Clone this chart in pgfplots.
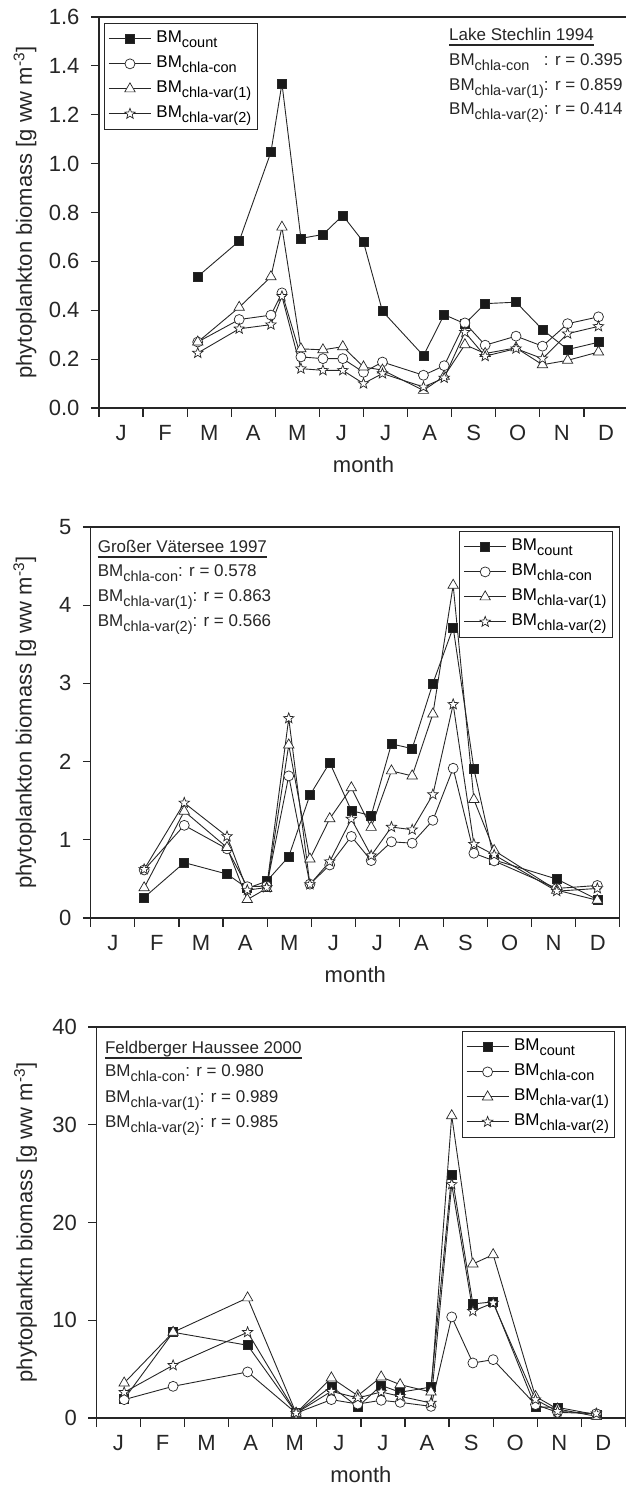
\documentclass[border=0pt]{standalone}
\usepackage{pgfplots}
\usepackage{pgfplotstable}
\pgfplotsset{compat=1.18}
\usepackage{fontspec}
\setmainfont{Liberation Sans}

% open five-pointed star
\pgfdeclareplotmark{ostar}{%
  \pgfpathmoveto{\pgfpointpolar{90}{\pgfplotmarksize}}%
  \pgfpathlineto{\pgfpointpolar{126}{0.42\pgfplotmarksize}}%
  \pgfpathlineto{\pgfpointpolar{162}{\pgfplotmarksize}}%
  \pgfpathlineto{\pgfpointpolar{198}{0.42\pgfplotmarksize}}%
  \pgfpathlineto{\pgfpointpolar{234}{\pgfplotmarksize}}%
  \pgfpathlineto{\pgfpointpolar{270}{0.42\pgfplotmarksize}}%
  \pgfpathlineto{\pgfpointpolar{306}{\pgfplotmarksize}}%
  \pgfpathlineto{\pgfpointpolar{342}{0.42\pgfplotmarksize}}%
  \pgfpathlineto{\pgfpointpolar{18}{\pgfplotmarksize}}%
  \pgfpathlineto{\pgfpointpolar{54}{0.42\pgfplotmarksize}}%
  \pgfpathclose
  \pgfusepathqfillstroke
}

\newcommand{\BMs}[1]{BM\raisebox{-5pt}{\fontsize{14.5}{14.5}\selectfont #1}}
\newcommand{\annfont}{\fontsize{17}{17}\selectfont}

% x = month position (0 = 1 Jan, 12 = 31 Dec)
\pgfplotstableread{
x      cnt    con    v1     v2
2.24   0.538  0.270  0.270  0.225
3.18   0.683  0.362  0.412  0.324
3.90   1.047  0.380  0.537  0.341
4.15   1.328  0.471  0.740  0.457
4.58   0.694  0.209  0.242  0.161
5.08   0.710  0.202  0.238  0.154
5.53   0.788  0.202  0.251  0.154
6.00   0.679  0.146  0.168  0.100
6.43   0.396  0.188  0.155  0.141
7.36   0.214  0.134  0.072  0.086
7.83   0.382  0.173  0.130  0.123
8.30   0.345  0.348  0.259  0.310
8.76   0.427  0.257  0.223  0.212
9.46   0.433  0.294  0.246  0.243
10.06  0.321  0.253  0.177  0.202
10.63  0.239  0.345  0.195  0.304
11.33  0.269  0.373  0.229  0.334
}\stechlin

\pgfplotstableread{
x      cnt    con    v1     v2
1.21   0.262  0.614  0.386  0.622
2.12   0.708  1.185  1.365  1.472
3.09   0.562  0.884  0.901  1.043
3.55   0.380  0.400  0.236  0.356
3.99   0.470  0.408  0.378  0.390
4.49   0.785  1.817  2.213  2.553
4.97   1.571  0.433  0.755  0.429
5.42   1.987  0.678  1.270  0.721
5.91   1.373  1.043  1.665  1.266
6.36   1.309  0.734  1.159  0.798
6.82   2.226  0.974  1.881  1.163
7.29   2.166  0.957  1.817  1.129
7.76   3.000  1.249  2.609  1.579
8.22   3.715  1.915  4.255  2.732
8.69   1.906  0.828  1.515  0.944
9.15   0.742  0.730  0.863  0.807
10.57  0.498  0.378  0.356  0.343
11.49  0.236  0.416  0.227  0.378
}\vaetersee

\pgfplotstableread{
x      cnt    con    v1     v2
0.63   1.95   1.88   3.58   2.63
1.74   8.77   3.24   8.77   5.39
3.43   7.44   4.71   12.29  8.77
4.53   0.51   0.50   0.50   0.50
5.33   3.24   1.88   4.10   2.73
5.93   1.13   1.43   2.29   2.05
6.46   3.34   1.81   4.20   2.66
6.89   2.63   1.60   3.41   2.22
7.59   3.17   1.19   2.66   1.54
8.06   24.92  10.34  30.92  23.90
8.54   11.67  5.63   15.76  10.92
9.00   11.88  5.97   16.71  11.77
9.96   1.13   1.37   2.20   1.88
10.46  1.09   0.58   0.92   0.68
11.34  0.34   0.44   0.17   0.44
}\feldberg

\pgfplotsset{
  panel/.style={
    scale only axis, width=529pt, height=391pt,
    anchor=south west,
    xmin=0, xmax=12,
    xtick={0.5,1.5,...,11.5},
    xticklabels={J,F,M,A,M,J,J,A,S,O,N,D},
    minor xtick={0,...,12},
    tick align=outside,
    xtick pos=bottom, ytick pos=left,
    major x tick style={draw=none},
    major tick length=8pt, minor tick length=9pt,
    axis line style={line width=1.2pt, draw=black!85},
    every tick/.append style={line width=1.2pt, draw=black!85},
    every tick label/.append style={font=\fontsize{22}{22}\selectfont, text=black!85},
    /pgf/number format/assume math mode=true,
    xticklabel style={yshift=-6pt},
    yticklabel style={xshift=-8pt},
    xlabel={month},
    every axis x label/.style={at={(axis description cs:0.5,0)}, anchor=center, yshift=-57pt,
      font=\fontsize{22}{22}\selectfont, text=black!85},
    every axis y label/.style={rotate=90, anchor=center,
      font=\fontsize{22}{22}\selectfont, text=black!85},
    legend cell align=left,
    legend style={draw=black!85, line width=1pt, font=\annfont,
      inner xsep=4pt, inner ysep=5pt, row sep=4pt,
      nodes={inner sep=2pt, text height=12pt, text depth=5pt},
      /tikz/every odd column/.style={column sep=3pt}},
    legend image code/.code={\draw[mark repeat=2, mark phase=2]
      plot coordinates {(0pt,0pt) (21pt,0pt) (42pt,0pt)};},
    every axis plot/.append style={line width=0.9pt, draw=black!85},
  },
  cnt/.style={mark=square*, mark size=4.5pt, mark options={fill=black!90, solid, line width=0.6pt}},
  con/.style={mark=*, mark size=5pt, mark options={fill=white, line width=0.7pt}},
  vone/.style={mark=triangle*, mark size=6pt, mark options={fill=white, line width=0.7pt}},
  vtwo/.style={mark=ostar, mark size=5.5pt, mark options={fill=white, line width=0.7pt}},
}

\begin{document}
\begin{tikzpicture}
\useasboundingbox (0,0) rectangle (625pt,1486pt);

% ---------- Lake Stechlin 1994 ----------
\begin{axis}[panel, at={(99pt,1078pt)},
  ymin=0, ymax=1.6, ytick={0,0.2,...,1.6},
  yticklabel style={/pgf/number format/.cd, fixed, fixed zerofill, precision=1},
  ylabel={phytoplankton biomass [g ww m\textsuperscript{-3}]},
  ylabel style={at={(axis description cs:-0.140,0.5)}},
  legend style={at={(axis description cs:0.0095,0.985)}, anchor=north west}]
\addplot[cnt]  table[x=x, y=cnt] {\stechlin};
\addplot[con]  table[x=x, y=con] {\stechlin};
\addplot[vone] table[x=x, y=v1]  {\stechlin};
\addplot[vtwo] table[x=x, y=v2]  {\stechlin};
\legend{\BMs{count}, \BMs{chla-con}, \BMs{chla-var(1)}, \BMs{chla-var(2)}}
\end{axis}

\node[anchor=base west, inner sep=0, font=\annfont, text=black!85] (t1) at (449pt,1445pt) {Lake Stechlin 1994};
\draw[line width=1.6pt, black!85] ([yshift=-4pt]t1.base west) -- ([yshift=-4pt]t1.base east);
\node[anchor=base west, inner sep=0, font=\annfont, text=black!85] at (449pt,1420pt) {\BMs{\rlap{chla-con}\phantom{chla-var(1)}}: r = 0.395};
\node[anchor=base west, inner sep=0, font=\annfont, text=black!85] at (449pt,1395pt) {\BMs{chla-var(1)}: r = 0.859};
\node[anchor=base west, inner sep=0, font=\annfont, text=black!85] at (449pt,1371pt) {\BMs{chla-var(2)}: r = 0.414};

% ---------- Grosser Vaetersee 1997 ----------
\begin{axis}[panel, at={(90.8pt,568pt)},
  ymin=0, ymax=5, ytick={0,1,...,5},
  ylabel={phytoplankton biomass [g ww m\textsuperscript{-3}]},
  ylabel style={at={(axis description cs:-0.125,0.5)}},
  legend style={at={(axis description cs:0.987,0.990)}, anchor=north east}]
\addplot[cnt]  table[x=x, y=cnt] {\vaetersee};
\addplot[con]  table[x=x, y=con] {\vaetersee};
\addplot[vone] table[x=x, y=v1]  {\vaetersee};
\addplot[vtwo] table[x=x, y=v2]  {\vaetersee};
\legend{\BMs{count}, \BMs{chla-con}, \BMs{chla-var(1)}, \BMs{chla-var(2)}}
\end{axis}

\node[anchor=base west, inner sep=0, font=\annfont, text=black!85] (t2) at (97.6pt,933pt) {Großer Vätersee 1997};
\draw[line width=1.6pt, black!85] ([yshift=-4pt]t2.base west) -- ([yshift=-4pt]t2.base east);
\node[anchor=base west, inner sep=0, font=\annfont, text=black!85] at (97.6pt,909pt) {\BMs{chla-con}: r = 0.578};
\node[anchor=base west, inner sep=0, font=\annfont, text=black!85] at (97.6pt,884pt) {\BMs{chla-var(1)}: r = 0.863};
\node[anchor=base west, inner sep=0, font=\annfont, text=black!85] at (97.6pt,859pt) {\BMs{chla-var(2)}: r = 0.566};

% ---------- Feldberger Haussee 2000 ----------
\begin{axis}[panel, at={(96.4pt,68pt)},
  ymin=0, ymax=40, ytick={0,10,...,40},
  ylabel={phytoplanktn biomass [g ww m\textsuperscript{-3}]},
  ylabel style={at={(axis description cs:-0.134,0.5)}},
  legend style={at={(axis description cs:0.981,0.990)}, anchor=north east}]
\addplot[cnt]  table[x=x, y=cnt] {\feldberg};
\addplot[con]  table[x=x, y=con] {\feldberg};
\addplot[vone] table[x=x, y=v1]  {\feldberg};
\addplot[vtwo] table[x=x, y=v2]  {\feldberg};
\legend{\BMs{count}, \BMs{chla-con}, \BMs{chla-var(1)}, \BMs{chla-var(2)}}
\end{axis}

\node[anchor=base west, inner sep=0, font=\annfont, text=black!85] (t3) at (104.8pt,432pt) {Feldberger Haussee 2000};
\draw[line width=1.6pt, black!85] ([yshift=-4pt]t3.base west) -- ([yshift=-4pt]t3.base east);
\node[anchor=base west, inner sep=0, font=\annfont, text=black!85] at (104.8pt,409pt) {\BMs{chla-con}: r = 0.980};
\node[anchor=base west, inner sep=0, font=\annfont, text=black!85] at (104.8pt,383pt) {\BMs{chla-var(1)}: r = 0.989};
\node[anchor=base west, inner sep=0, font=\annfont, text=black!85] at (104.8pt,358pt) {\BMs{chla-var(2)}: r = 0.985};
\end{tikzpicture}
\end{document}
